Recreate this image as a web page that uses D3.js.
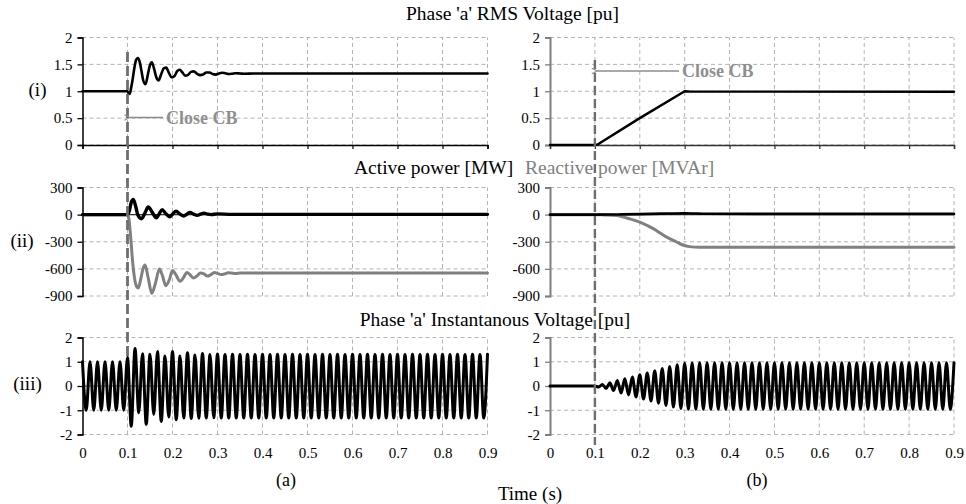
<!DOCTYPE html>
<html>
<head>
<meta charset="utf-8">
<script src="https://cdn.jsdelivr.net/npm/d3@7"></script>
<style>
  body { margin: 0; background: #fff; }
  svg { display: block; font-family: "Liberation Serif", "Times New Roman", serif; }
</style>
</head>
<body>
<svg id="chart" width="966" height="504"></svg>
<script>
// ---- tick values ----
const timeTicks  = [0, 0.1, 0.2, 0.3, 0.4, 0.5, 0.6, 0.7, 0.8, 0.9];
const rmsTicks   = [0, 0.5, 1, 1.5, 2];
const powerTicks = [-900, -600, -300, 0, 300];
const waveTicks  = [-2, -1, 0, 1, 2];

// ---- (i) RMS voltage [pu], [time s, value] ----
const rmsA = [[0,1],[0.1,1],[0.102,0.97],[0.105,0.95],[0.108,1.06],[0.111,1.2],[0.115,1.42],[0.119,1.58],[0.123,1.62],[0.127,1.55],[0.131,1.38],[0.135,1.2],[0.14,1.13],[0.145,1.3],[0.149,1.46],[0.154,1.54],[0.159,1.42],[0.164,1.26],[0.169,1.2],[0.175,1.32],[0.181,1.43],[0.186,1.44],[0.192,1.34],[0.198,1.26],[0.204,1.28],[0.21,1.37],[0.216,1.4],[0.222,1.35],[0.228,1.29],[0.234,1.3],[0.241,1.36],[0.247,1.37],[0.254,1.33],[0.261,1.3],[0.268,1.31],[0.275,1.35],[0.282,1.35],[0.289,1.32],[0.296,1.31],[0.303,1.33],[0.31,1.345],[0.317,1.335],[0.324,1.32],[0.332,1.325],[0.34,1.335],[0.35,1.33],[0.36,1.325],[0.38,1.33],[0.9,1.33]];
const rmsB = [[0,0],[0.1,0],[0.106,0.01],[0.2,0.5],[0.3,1.0],[0.31,0.995],[0.9,0.99]];

// ---- (ii) active [MW] and reactive [MVAr] power ----
const activeA = [[0,0],[0.1,0],[0.104,40],[0.108,130],[0.113,167],[0.118,95],[0.123,-5],[0.131,-45],[0.139,20],[0.146,84],[0.155,25],[0.164,-35],[0.17,5],[0.177,55],[0.185,12],[0.194,-25],[0.2,5],[0.208,37],[0.216,8],[0.225,-15],[0.232,5],[0.239,25],[0.247,5],[0.255,-8],[0.262,5],[0.27,15],[0.278,5],[0.286,0],[0.3,8],[0.33,3],[0.4,3],[0.9,3]];
const reactiveA = [[0,0],[0.1,0],[0.103,-40],[0.107,-250],[0.111,-500],[0.115,-680],[0.119,-780],[0.124,-811],[0.13,-700],[0.135,-590],[0.139,-556],[0.146,-700],[0.154,-871],[0.162,-760],[0.171,-600],[0.178,-680],[0.185,-786],[0.193,-720],[0.2,-617],[0.208,-670],[0.217,-738],[0.224,-700],[0.232,-640],[0.239,-665],[0.246,-700],[0.254,-680],[0.262,-645],[0.27,-655],[0.277,-680],[0.285,-665],[0.293,-640],[0.3,-650],[0.308,-662],[0.316,-655],[0.324,-642],[0.332,-646],[0.34,-652],[0.35,-646],[0.36,-645],[0.9,-645]];
const activeB = [[0,0],[0.1,0],[0.15,2],[0.2,6],[0.25,11],[0.3,15],[0.35,10],[0.45,8],[0.9,8]];
const reactiveB = [[0,0],[0.1,0],[0.12,-3],[0.148,-11],[0.178,-47],[0.2,-83],[0.23,-155],[0.259,-246],[0.281,-300],[0.296,-336],[0.311,-354],[0.333,-361],[0.4,-362],[0.9,-362]];

// ---- (iii) instantaneous voltage [pu]: successive half-cycle peaks (60 Hz), t = 0 … 0.9 s ----
const halfCycle = 1 / 120;
const peaksA = [
  1,-1,1,-1,1,-1,1,-1,1,-1,1,-1,
  1.18,-1.66,1.55,-1.1,1.33,-1.58,1.31,-1.18,1.42,-1.46,1.24,-1.28,1.42,-1.39,1.24,-1.32,
  1.37,-1.34,1.28,-1.33,1.34,-1.32,1.3,-1.31,1.32,-1.32,1.3,-1.32,1.31,-1.32,1.3,-1.32,
  1.31,-1.32,1.3,-1.32,1.31,-1.32,1.3,-1.32,1.31,-1.32,1.3,-1.32,1.31,-1.32,1.3,-1.32,
  1.31,-1.32,1.3,-1.32,1.31,-1.32,1.3,-1.32,1.31,-1.32,1.3,-1.32,1.31,-1.32,1.3,-1.32,
  1.31,-1.32,1.3,-1.32,1.31,-1.32,1.3,-1.32,1.31,-1.32,1.3,-1.32,1.31,-1.32,1.3,-1.32,
  1.31,-1.32,1.3,-1.32,1.31,-1.32,1.3,-1.32,1.31,-1.32,1.3,-1.32,1.31,-1.32,1.3,-1.32,
  1.31
];
const peaksB = [
  0,0,0,0,0,0,0,0,0,0,0,0,
  0,-0.04,0.06,-0.1,0.13,-0.19,0.23,-0.29,0.3,-0.37,0.37,-0.45,0.46,-0.54,0.54,-0.62,
  0.63,-0.71,0.72,-0.8,0.8,-0.87,0.88,-0.93,0.94,-0.96,0.95,-0.96,0.96,-0.96,0.96,-0.96,
  0.96,-0.96,0.96,-0.96,0.96,-0.96,0.96,-0.96,0.96,-0.96,0.96,-0.96,0.96,-0.96,0.96,-0.96,
  0.96,-0.96,0.96,-0.96,0.96,-0.96,0.96,-0.96,0.96,-0.96,0.96,-0.96,0.96,-0.96,0.96,-0.96,
  0.96,-0.96,0.96,-0.96,0.96,-0.96,0.96,-0.96,0.96,-0.96,0.96,-0.96,0.96,-0.96,0.96,-0.96,
  0.96,-0.96,0.96,-0.96,0.96,-0.96,0.96,-0.96,0.96,-0.96,0.96,-0.96,0.96,-0.96,0.96,-0.96,
  0.96
];

const closeTime = 0.1;

// ---- layout ----
const svg = d3.select("#chart");
const font = '"Liberation Serif","Times New Roman",serif';

const columns = [
  { x: d3.scaleLinear([0, 0.9], [82.5, 487.5]), axisColor: "#000", axisWidth: 1.5, baseColor: "#000" },
  { x: d3.scaleLinear([0, 0.9], [550, 954]),    axisColor: "#7f7f7f", axisWidth: 2, baseColor: "#333" }
];
const rows = [
  { y: d3.scaleLinear([0, 2], [145, 37.5]),       ticks: rmsTicks },
  { y: d3.scaleLinear([-900, 300], [296, 187.5]), ticks: powerTicks },
  { y: d3.scaleLinear([-2, 2], [434.5, 337.5]),   ticks: waveTicks }
];

const gridColor = "#b4b4b4";

function drawFrame(col, row, rowIndex) {
  const x = col.x, y = row.y;
  const g = svg.append("g");
  // dashed grid
  g.selectAll("line.v").data(timeTicks.slice(1)).join("line")
    .attr("x1", d => x(d)).attr("x2", d => x(d))
    .attr("y1", y.range()[0]).attr("y2", y.range()[1])
    .attr("stroke", gridColor).attr("stroke-width", 1).attr("stroke-dasharray", "4,3");
  g.selectAll("line.h").data(row.ticks).join("line")
    .attr("x1", x.range()[0]).attr("x2", x.range()[1])
    .attr("y1", d => y(d)).attr("y2", d => y(d))
    .attr("stroke", gridColor).attr("stroke-width", 1).attr("stroke-dasharray", "4,3");

  // horizontal axis
  if (rowIndex === 0) {
    const ax = g.append("g").attr("transform", `translate(0,${y(0)})`)
      .call(d3.axisBottom(x).tickValues(timeTicks).tickSize(4).tickFormat(""));
    ax.select(".domain").attr("stroke", col.baseColor).attr("stroke-width", 1.5);
    ax.selectAll(".tick line").attr("stroke", col.baseColor).attr("stroke-width", 1.2);
  } else if (rowIndex === 1) {
    g.append("line").attr("x1", x.range()[0]).attr("x2", x.range()[1])
      .attr("y1", y(0)).attr("y2", y(0)).attr("stroke", "#333").attr("stroke-width", 1.2);
  } else {
    g.append("line").attr("x1", x.range()[0]).attr("x2", x.range()[1])
      .attr("y1", y(0)).attr("y2", y(0)).attr("stroke", "#6a6a6a").attr("stroke-width", 1.2);
    const lab = g.append("g").attr("transform", `translate(0,${y.range()[0]})`)
      .call(d3.axisBottom(x).tickValues(timeTicks).tickSize(0).tickPadding(13).tickFormat(d => String(d)));
    lab.select(".domain").remove();
    lab.selectAll("text").attr("font-family", font).attr("font-size", 15).attr("fill", "#000");
  }

  // vertical axis
  const ay = g.append("g").attr("transform", `translate(${x.range()[0]},0)`)
    .call(d3.axisLeft(y).tickValues(row.ticks).tickSize(5).tickPadding(5).tickFormat(d => String(d)));
  ay.select(".domain").attr("stroke", col.axisColor).attr("stroke-width", col.axisWidth);
  ay.selectAll(".tick line").attr("stroke", col.axisColor).attr("stroke-width", 1.3);
  ay.selectAll("text").attr("font-family", font).attr("font-size", 15).attr("fill", "#000");
}

columns.forEach(col => rows.forEach((row, i) => drawFrame(col, row, i)));

// ---- data lines ----
function drawSeries(col, row, data, color, width, curve) {
  const line = d3.line().x(d => col.x(d[0])).y(d => row.y(d[1])).curve(curve || d3.curveMonotoneX);
  svg.append("path").datum(data).attr("d", line)
    .attr("fill", "none").attr("stroke", color).attr("stroke-width", width)
    .attr("stroke-linejoin", "round").attr("stroke-linecap", "round");
}
const peakSeries = peaks => peaks.map((v, k) => [k * halfCycle, v]);

drawSeries(columns[0], rows[0], rmsA, "#000", 2.6);
drawSeries(columns[1], rows[0], rmsB, "#000", 2.4, d3.curveLinear);

drawSeries(columns[0], rows[1], reactiveA, "#808080", 3);
drawSeries(columns[0], rows[1], activeA, "#000", 3.4);
drawSeries(columns[1], rows[1], reactiveB, "#808080", 3);
drawSeries(columns[1], rows[1], activeB, "#000", 2.6);

drawSeries(columns[0], rows[2], peakSeries(peaksA), "#000", 3);
drawSeries(columns[1], rows[2], peakSeries(peaksB), "#000", 3);

// ---- circuit breaker closing markers ----
const cbColor = "#6e6e6e";
svg.append("line")
  .attr("x1", columns[0].x(closeTime)).attr("x2", columns[0].x(closeTime))
  .attr("y1", 52).attr("y2", 356)
  .attr("stroke", cbColor).attr("stroke-width", 2.8).attr("stroke-dasharray", "10,4");
svg.append("line")
  .attr("x1", columns[1].x(closeTime)).attr("x2", columns[1].x(closeTime))
  .attr("y1", 60).attr("y2", 445)
  .attr("stroke", cbColor).attr("stroke-width", 2.4).attr("stroke-dasharray", "9,4");

svg.append("defs").append("marker")
  .attr("id", "arrow").attr("viewBox", "0 0 10 10").attr("refX", 1).attr("refY", 5)
  .attr("markerWidth", 7).attr("markerHeight", 7).attr("orient", "auto-start-reverse")
  .attr("markerUnits", "userSpaceOnUse")
  .append("path").attr("d", "M9,1 L1,5 L9,9").attr("fill", "none").attr("stroke", "#8c8c8c").attr("stroke-width", 1.5);

function cbNote(col, yLevel, xText) {
  const x0 = col.x(closeTime) + 2.5;
  svg.append("line").attr("x1", xText - 3).attr("x2", x0).attr("y1", yLevel).attr("y2", yLevel)
    .attr("stroke", "#8c8c8c").attr("stroke-width", 1.5).attr("marker-end", "url(#arrow)");
  svg.append("text").attr("x", xText).attr("y", yLevel).attr("dy", "0.35em")
    .attr("font-family", font).attr("font-size", 18).attr("font-weight", "bold")
    .attr("fill", "#8f8f8f").text("Close CB");
}
cbNote(columns[0], 117.5, 166);
cbNote(columns[1], 71, 682);

// ---- titles and labels ----
function label(txt, x, y, opts = {}) {
  svg.append("text").attr("x", x).attr("y", y)
    .attr("text-anchor", opts.anchor || "middle")
    .attr("font-family", font).attr("font-size", opts.size || 19.5)
    .attr("fill", opts.color || "#000").text(txt);
}
label("Phase 'a' RMS Voltage [pu]", 512.5, 20);
label("Active power [MW]", 354, 174, { anchor: "start" });
label("Reactive power [MVAr]", 525, 174, { anchor: "start", color: "#808080" });
label("Phase 'a' Instantanous Voltage [pu]", 495, 326);
label("(i)", 37.5, 96, { size: 19 });
label("(ii)", 22, 247, { size: 19 });
label("(iii)", 27.5, 390, { size: 19 });
label("(a)", 286, 486, { size: 18 });
label("(b)", 757, 486, { size: 18 });
label("Time (s)", 530, 500, { size: 19 });
</script>
</body>
</html>
